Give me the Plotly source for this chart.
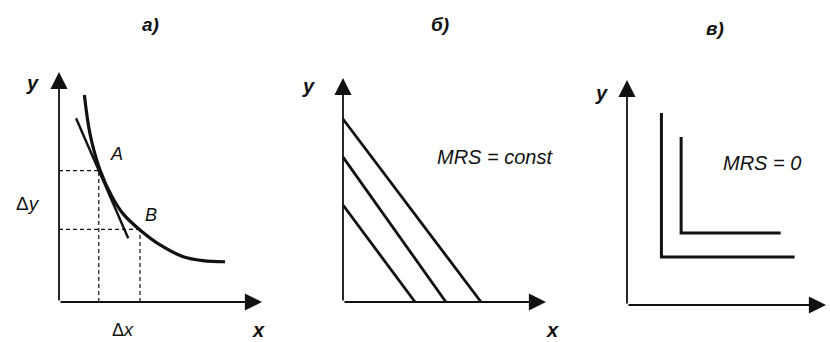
import plotly.graph_objects as go

W, H = 830, 342

# ---- panel а): convex indifference curve, tangent at A, chord A-B ----
curve_x = [1.25, 1.53, 2.02, 2.60, 3.17, 3.99, 4.98, 6.12, 7.09, 8.18]
curve_y = [9.00, 7.30, 5.74, 4.60, 3.82, 3.13, 2.48, 1.97, 1.80, 1.75]
tangent_x = [0.84, 3.41]
tangent_y = [7.99, 2.77]
point_A = (1.96, 5.71)
point_B = (3.99, 3.16)

# ---- panel б): perfect substitutes (parallel straight lines) ----
subst_y_intercepts = [4.33, 6.47, 8.17]
subst_x_intercepts = [3.55, 5.07, 6.80]

# ---- panel в): perfect complements (L-shaped curves) ----
compl_corner_x = [1.73, 2.72]
compl_corner_y = [2.13, 3.20]
compl_top_y = [8.53, 7.47]
compl_right_x = [8.42, 7.72]

panel_titles = ["а)", "б)", "в)"]

# ---- layout geometry (pixels): origin and arrow tips of each panel ----
geom = [
    dict(ox=59, oy=302, tx=262, ty=72),
    dict(ox=343, oy=302, tx=546, ty=78),
    dict(ox=627, oy=305, tx=826, ty=80),
]
PAD = 0.15

fig = go.Figure()
INK = "#111111"
FONT = "Liberation Sans"

layout_axes = {}
for i, g in enumerate(geom):
    ux = (g["tx"] - g["ox"]) / 10
    uy = (g["oy"] - g["ty"]) / 10
    xd = [(g["ox"] - PAD * ux) / W, (g["tx"] + PAD * ux) / W]
    yd = [(H - (g["oy"] + PAD * uy)) / H, (H - (g["ty"] - PAD * uy)) / H]
    sfx = "" if i == 0 else str(i + 1)
    common = dict(showgrid=False, zeroline=False, showticklabels=False,
                  showline=False, ticks="", fixedrange=True)
    layout_axes["xaxis" + sfx] = dict(domain=xd, range=[-PAD, 10 + PAD],
                                      anchor="y" + sfx, **common)
    layout_axes["yaxis" + sfx] = dict(domain=yd, range=[-PAD, 10 + PAD],
                                      anchor="x" + sfx, **common)

def ax(i):
    s = "" if i == 0 else str(i + 1)
    return "x" + s, "y" + s

def to_paper(i, x, y):
    # convert panel data units to paper fractions (for labels outside the axis range)
    sfx = "" if i == 0 else str(i + 1)
    xa, ya = layout_axes["xaxis" + sfx], layout_axes["yaxis" + sfx]
    (x0, x1), (r0, r1) = xa["domain"], xa["range"]
    (y0, y1), (s0, s1) = ya["domain"], ya["range"]
    return x0 + (x - r0) / (r1 - r0) * (x1 - x0), y0 + (y - s0) / (s1 - s0) * (y1 - y0)

def line(i, xs, ys, width=3, dash=None, shape="linear"):
    xr, yr = ax(i)
    fig.add_trace(go.Scatter(x=xs, y=ys, mode="lines", xaxis=xr, yaxis=yr,
                             line=dict(color=INK, width=width, dash=dash, shape=shape),
                             hoverinfo="skip", showlegend=False))

# Panel а
line(0, [0, point_A[0]], [point_A[1], point_A[1]], width=1.2, dash="4px,3px")
line(0, [0, point_B[0]], [point_B[1], point_B[1]], width=1.2, dash="4px,3px")
line(0, [point_A[0], point_A[0]], [0, point_A[1]], width=1.2, dash="4px,3px")
line(0, [point_B[0], point_B[0]], [0, point_B[1]], width=1.2, dash="4px,3px")
line(0, tangent_x, tangent_y, width=2.4)
line(0, curve_x, curve_y, width=3.2, shape="spline")

# Panel б
for xi, yi in zip(subst_x_intercepts, subst_y_intercepts):
    line(1, [0, xi], [yi, 0], width=2.8)

# Panel в
for cx, cy, ty, rx in zip(compl_corner_x, compl_corner_y, compl_top_y, compl_right_x):
    line(2, [cx, cx, rx], [ty, cy, cy], width=3)

annotations = []
# axis arrows
for i in range(3):
    xr, yr = ax(i)
    for (x, y) in [(10, 0), (0, 10)]:
        annotations.append(dict(x=x, y=y, ax=0, ay=0, xref=xr, yref=yr,
                                axref=xr, ayref=yr, text="", showarrow=True,
                                arrowhead=2, arrowsize=1.9, arrowwidth=1.8,
                                arrowcolor=INK, standoff=0))

def label(i, x, y, text, size=18, weight="normal", style="italic"):
    px, py = to_paper(i, x, y)
    annotations.append(dict(x=px, y=py, xref="paper", yref="paper", text=text,
                            showarrow=False, xanchor="center", yanchor="middle",
                            font=dict(family=FONT, size=size, color=INK,
                                      style=style, weight=weight)))

label(0, -1.33, 9.52, "y", 20, "bold")
label(0, -1.55, 4.30, "Δ<i>y</i>", 19, style="normal")
label(0, 2.81, 6.45, "A", 18)
label(0, 4.53, 3.78, "B", 18)
label(0, 3.15, -1.22, "Δ<i>x</i>", 18, style="normal")
label(0, 9.85, -1.22, "x", 20, "bold")

label(1, -1.72, 9.64, "y", 20, "bold")
label(1, 10.3, -1.25, "x", 20, "bold")
label(1, 7.49, 6.47, "MRS = const", 20)

label(2, -1.26, 9.42, "y", 20, "bold")
label(2, 6.78, 6.31, "MRS = 0", 20)

for t, px, py in zip(panel_titles, [150, 440, 715], [25, 25, 28]):
    annotations.append(dict(x=px / W, y=1 - py / H, xref="paper", yref="paper",
                            text=t, showarrow=False, xanchor="center", yanchor="middle",
                            font=dict(family=FONT, size=19, color=INK,
                                      style="italic", weight="bold")))

fig.update_layout(width=W, height=H, margin=dict(l=0, r=0, t=0, b=0),
                  paper_bgcolor="white", plot_bgcolor="white",
                  annotations=annotations, showlegend=False, **layout_axes)

fig.write_html("out.html", config={"displayModeBar": False},
               post_script="document.body.style.margin='0px';")
